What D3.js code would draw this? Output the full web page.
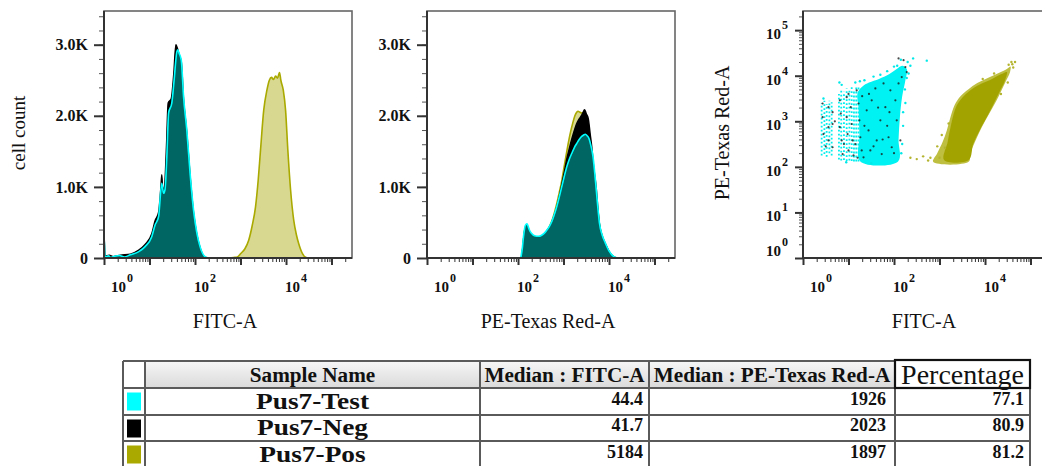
<!DOCTYPE html>
<html><head><meta charset="utf-8">
<script src="https://cdn.jsdelivr.net/npm/d3@7"></script>
<style>body{margin:0;background:#fff}svg{display:block}</style>
</head><body><svg id="c" width="1042" height="466"></svg>
<script>
// ---------------- DATA ----------------
const samples = ["Pus7-Test", "Pus7-Neg", "Pus7-Pos"];
const sampleColors = ["#00ffff", "#000000", "#a9a900"];
const medianFITC = ["44.4", "41.7", "5184"];
const medianPE = ["1926", "2023", "1897"];
const percentage = ["77.1", "80.9", "81.2"];
const tableHeaders = ["Sample Name", "Median : FITC-A", "Median : PE-Texas Red-A", "Percentage"];
const countTicks = [0, 1000, 2000, 3000];
const countTickLabels = ["0", "1.0K", "2.0K", "3.0K"];
const countMax = 3474;
const xDecadeLabels = [0, 2, 4];
const yDecadeLabels = [0, 1, 2, 3, 4, 5];
const axisTitles = ["FITC-A", "PE-Texas Red-A", "FITC-A"];

// histograms: [intensity, cell count]
const fitcTest = [[1,0],[1,300],[1.05,15],[1.25,30],[1.4,8],[1.7,25],[2.2,35],[2.8,15],[3.8,45],[5.8,90],[8,160],[11.2,300],[13.2,460],[15.8,580],[18.6,1050],[20.4,910],[21.9,960],[24,1420],[26.3,2040],[30.9,2180],[34.7,2500],[39.8,2900],[41.7,2930],[44.7,2880],[50,2780],[56,2270],[66,1800],[78,1190],[93,670],[110,350],[129,160],[166,20],[200,0]];
const fitcNeg = [[1,0],[1,330],[1.06,25],[1.3,40],[1.6,20],[2.3,40],[3.8,55],[5.8,110],[8,190],[11.2,340],[13.2,520],[15.8,640],[17.8,1000],[18.6,1170],[19.6,960],[21.3,1000],[23.5,1550],[25.7,2180],[30,2240],[34,2580],[38,3000],[40.5,2960],[44.7,2860],[50,2760],[56,2240],[66,1770],[78,1160],[93,640],[110,330],[129,150],[160,15],[190,0]];
const fitcPos = [[560,0],[700,8],[850,15],[1000,60],[1250,130],[1514,250],[1800,450],[2138,720],[2450,1100],[2754,1520],[3236,2080],[3802,2360],[4300,2500],[4800,2540],[5300,2510],[5900,2560],[6500,2530],[7200,2610],[7700,2500],[8710,2360],[9772,2080],[10965,1520],[12589,960],[14791,530],[17000,320],[19055,200],[23000,60],[26915,10],[31623,0]];
const peTest = [[115,0],[125,150],[132,300],[145,460],[158,480],[172,420],[186,370],[210,330],[240,310],[280,305],[331,320],[380,350],[427,390],[490,445],[550,510],[620,600],[708,720],[800,850],[912,1000],[1040,1150],[1175,1280],[1340,1390],[1514,1470],[1720,1550],[1950,1610],[2230,1670],[2512,1710],[2780,1730],[3020,1740],[3300,1720],[3630,1680],[4000,1580],[4467,1420],[4850,1200],[5248,960],[5700,700],[6166,490],[7100,320],[8318,210],[10000,100],[11750,40],[13500,10],[15136,0]];
const peNeg = [[118,0],[128,160],[134,300],[146,440],[158,460],[172,400],[186,350],[210,315],[240,300],[280,295],[331,310],[380,340],[427,380],[490,435],[550,500],[620,595],[708,720],[800,860],[912,1030],[1040,1210],[1175,1390],[1340,1540],[1514,1670],[1720,1790],[1950,1890],[2230,1960],[2512,2010],[2700,2050],[2884,2085],[3050,2060],[3162,2030],[3400,1990],[3548,1940],[3850,1750],[4169,1570],[4600,1280],[5248,980],[5700,700],[6166,480],[7100,310],[8318,200],[10000,95],[11750,35],[13500,8],[15000,0]];
const pePos = [[118,0],[128,150],[134,290],[146,430],[158,450],[172,390],[186,345],[210,310],[240,295],[280,290],[331,305],[380,335],[427,375],[490,440],[550,515],[620,620],[708,760],[800,910],[912,1080],[1010,1250],[1122,1420],[1260,1600],[1413,1760],[1600,1900],[1778,2000],[1950,2050],[2089,2065],[2300,2050],[2512,2040],[2750,2045],[2884,2050],[3100,1980],[3311,1900],[3650,1700],[3981,1500],[4500,1230],[5012,980],[5600,700],[6166,470],[7100,300],[8318,195],[10000,90],[11750,35],[13500,8],[15000,0]];

// scatter (values as log10 FITC, log10 PE-Texas Red): columns [x, yLow, yHigh]
const testColumns = [[0.41,2.25,3.40],[0.47,2.28,3.45],[0.52,2.22,3.38],[0.58,2.30,3.45],[0.63,2.25,3.42],[0.79,2.16,3.60],[0.84,2.14,3.70],[0.90,2.15,3.65],[0.96,2.13,3.72],[1.02,2.14,3.68],[1.07,2.13,3.75],[1.12,2.12,3.70],[1.17,2.12,3.74],[1.22,2.12,3.78]];
const testBody = [[1.26,2.12],[1.24,2.7],[1.22,3.3],[1.2,3.62],[1.3,3.76],[1.45,3.85],[1.67,3.93],[1.89,4.03],[2.05,4.14],[2.18,4.22],[2.28,4.15],[2.25,3.9],[2.18,3.55],[2.13,3.1],[2.1,2.6],[2.09,2.12]];
const testOutliers = [[2.07,4.22],[2.15,4.35],[2.3,4.3],[2.42,4.38],[2.72,4.33],[2.36,4.22],[1.85,4.1],[1.55,3.98],[1.25,3.88],[0.85,3.8],[0.8,3.85],[2.28,3.95],[2.25,3.4],[2.2,2.9],[2.18,2.5],[0.45,3.5],[0.95,2.1],[1.5,2.08],[1.35,3.9],[1.7,4.02],[2.0,4.2],[2.24,3.7],[2.2,3.2],[2.16,2.3],[1.15,3.85],[2.32,4.05]];
const negDots = [[0.43,3.39],[0.43,3.09],[0.45,2.72],[0.56,3.31],[0.56,2.87],[0.56,2.58],[0.65,3.20],[0.65,2.94],[0.65,2.43],[0.81,3.46],[0.83,3.17],[0.81,2.87],[0.85,2.58],[0.87,2.28],[0.96,3.53],[0.96,3.09],[0.98,2.72],[1.0,2.36],[1.05,3.31],[1.07,2.94],[1.09,2.58],[1.11,2.25],[1.18,3.68],[1.22,3.39],[1.24,3.02],[1.26,2.65],[1.29,2.36],[1.33,2.21],[1.40,3.24],[1.44,2.80],[1.48,2.36],[1.51,3.46],[1.59,3.72],[1.62,2.58],[1.70,3.02],[1.73,2.28],[1.77,3.83],[1.81,3.31],[1.88,2.65],[1.92,3.68],[1.95,2.43],[2.03,3.46],[2.06,3.02],[2.10,3.83],[2.14,2.58],[2.17,3.97],[2.25,4.19],[2.28,4.08],[2.21,4.34],[2.10,4.38],[1.15,2.5],[1.35,2.9],[1.55,2.45],[1.65,3.3],[1.85,2.9],[2.0,2.3],[1.2,2.2],[1.45,3.6],[1.75,2.6],[1.9,3.2],[0.9,2.5],[0.7,3.0],[0.5,2.45],[1.0,3.6],[1.3,3.55]];
const posHalo = [[2.86,2.11],[2.95,2.3],[3.07,2.55],[3.16,2.8],[3.23,3.05],[3.33,3.35],[3.46,3.55],[3.63,3.7],[3.83,3.84],[4.06,3.95],[4.3,4.06],[4.48,4.15],[4.56,4.2],[4.55,4.08],[4.45,3.86],[4.3,3.55],[4.1,3.18],[3.92,2.85],[3.78,2.55],[3.68,2.3],[3.64,2.11]];
const posCore = [[3.1,2.15],[3.18,2.55],[3.26,2.95],[3.38,3.35],[3.58,3.6],[3.83,3.78],[4.1,3.9],[4.35,4.03],[4.48,4.08],[4.44,3.9],[4.27,3.55],[4.07,3.15],[3.88,2.8],[3.74,2.5],[3.64,2.15]];
const posOutliers = [[2.36,2.2],[2.5,2.17],[2.64,2.23],[2.75,2.14],[2.8,2.2],[4.6,4.25],[4.66,4.3],[4.58,4.3],[4.52,4.24],[4.62,4.18],[2.95,2.45],[3.05,2.7],[4.5,3.85],[4.35,3.6],[3.0,2.2],[3.12,2.42],[3.2,2.95],[3.95,3.93],[4.2,4.05]];

// ---------------- DRAW ----------------
const svg = d3.select("#c");
const SERIF = "'Liberation Serif','Times New Roman',serif";
const panelLeft = [104, 427, 803];
const PW = 248, TOP = 11, BOT = 258;
const xMax = Math.pow(10, 5.45), yMaxLog = Math.pow(10, 5.42);
const tealFill = "#006663";

function xScale(i) { return d3.scaleLog().domain([1, xMax]).range([panelLeft[i], panelLeft[i] + PW]); }
const yCount = d3.scaleLinear().domain([0, countMax]).range([BOT, TOP]);
const yLog = d3.scaleLog().domain([1, yMaxLog]).range([BOT, TOP]);

const defs = svg.append("defs");
panelLeft.forEach((x0, i) => {
  defs.append("clipPath").attr("id", "clip" + i).append("rect")
    .attr("x", x0).attr("y", TOP).attr("width", PW).attr("height", BOT - TOP);
});
const grad = defs.append("linearGradient").attr("id", "hdr").attr("x1", 0).attr("y1", 0).attr("x2", 0).attr("y2", 1);
grad.append("stop").attr("offset", 0).attr("stop-color", "#f6f6f6");
grad.append("stop").attr("offset", 1).attr("stop-color", "#dadada");

const minorVals = [];
for (let k = 0; k <= 5; k++) for (let m = 2; m <= 9; m++) { const v = m * Math.pow(10, k); if (v < xMax) minorVals.push(v); }
const decades = [1, 10, 100, 1000, 10000, 100000];

function styleAxis(g) {
  g.select(".domain").remove();
  g.selectAll("line").attr("stroke", "#333");
}

function drawFrame(i) {
  const x0 = panelLeft[i];
  svg.append("rect").attr("x", x0).attr("y", TOP).attr("width", PW).attr("height", BOT - TOP)
    .attr("fill", "none").attr("stroke", "#666").attr("stroke-width", 1.6);
}

function drawXAxis(i) {
  const x = xScale(i);
  const gMaj = svg.append("g").attr("transform", `translate(0,${BOT})`)
    .call(d3.axisBottom(x).tickValues(decades).tickSize(7).tickFormat(""));
  styleAxis(gMaj); gMaj.selectAll("line").attr("stroke-width", 2);
  const gMin = svg.append("g").attr("transform", `translate(0,${BOT})`)
    .call(d3.axisBottom(x).tickValues(minorVals).tickSize(4).tickFormat(""));
  styleAxis(gMin); gMin.selectAll("line").attr("stroke-width", 1);
  svg.append("line").attr("x1", panelLeft[i]).attr("x2", Math.min(panelLeft[i] + PW, 1042)).attr("y1", BOT).attr("y2", BOT)
    .attr("stroke", "#333").attr("stroke-width", 2);
  xDecadeLabels.forEach(k => {
    const off = k === 0 ? 7 : -1;
    const t = svg.append("text").attr("x", x(Math.pow(10, k)) + off).attr("y", 292)
      .attr("font-family", SERIF).attr("font-weight", "bold").attr("font-size", 15).attr("fill", "#111");
    t.append("tspan").text("10");
    t.append("tspan").attr("font-size", 12).attr("dx", 1).attr("dy", -10).text(k);
  });
  svg.append("text").attr("x", panelLeft[i] + PW / 2 - 3).attr("y", 328).attr("text-anchor", "middle")
    .attr("font-family", SERIF).attr("font-size", 20).attr("fill", "#111").text(axisTitles[i]);
}

function drawCountAxis(i) {
  const x0 = panelLeft[i];
  const minor = d3.range(0, 3401, 200);
  const gMin = svg.append("g").attr("transform", `translate(${x0},0)`)
    .call(d3.axisLeft(yCount).tickValues(minor).tickSize(5).tickFormat(""));
  styleAxis(gMin); gMin.selectAll("line").attr("stroke", "#555").attr("stroke-width", 1);
  const gMaj = svg.append("g").attr("transform", `translate(${x0},0)`)
    .call(d3.axisLeft(yCount).tickValues(countTicks).tickSize(10).tickPadding(6).tickFormat((d, j) => countTickLabels[j]));
  styleAxis(gMaj); gMaj.selectAll("line").attr("stroke-width", 2);
  gMaj.selectAll("text").attr("font-family", SERIF).attr("font-weight", "bold").attr("font-size", 16).attr("fill", "#111");
  svg.append("line").attr("x1", x0).attr("x2", x0).attr("y1", TOP).attr("y2", BOT).attr("stroke", "#333").attr("stroke-width", 2);
}

function drawHist(i, data, fill, stroke, sw) {
  const x = xScale(i);
  const area = d3.area().x(d => x(d[0])).y0(yCount(0)).y1(d => yCount(d[1])).curve(d3.curveMonotoneX);
  const line = d3.line().x(d => x(d[0])).y(d => yCount(d[1])).curve(d3.curveMonotoneX);
  const g = svg.append("g").attr("clip-path", `url(#clip${i})`);
  g.append("path").datum(data).attr("d", area).attr("fill", fill);
  g.append("path").datum(data).attr("d", line).attr("fill", "none").attr("stroke", stroke).attr("stroke-width", sw).attr("stroke-linejoin", "round");
}

// panel 1: FITC histogram
drawFrame(0);
drawHist(0, fitcPos, "#d8d890", "#a9a900", 1.6);
drawHist(0, fitcNeg, "#000", "#000", 1.4);
drawHist(0, fitcTest, tealFill, "#00ffff", 1.6);
drawCountAxis(0); drawXAxis(0);
svg.append("text").attr("transform", "translate(25,133) rotate(-90)").attr("text-anchor", "middle")
  .attr("font-family", SERIF).attr("font-size", 19).attr("fill", "#111").text("cell count");

// panel 2: PE histogram
drawFrame(1);
drawHist(1, pePos, "#d8d890", "#a9a900", 1.6);
drawHist(1, peNeg, "#000", "#000", 1.4);
drawHist(1, peTest, tealFill, "#00ffff", 1.6);
drawCountAxis(1); drawXAxis(1);

// panel 3: scatter
drawFrame(2);
(function () {
  const x = xScale(2);
  const P = p => [x(Math.pow(10, p[0])), yLog(Math.pow(10, p[1]))];
  const g = svg.append("g").attr("clip-path", "url(#clip2)");
  const poly = d3.line().x(p => P(p)[0]).y(p => P(p)[1]).curve(d3.curveCatmullRomClosed.alpha(0.5));
  g.selectAll("line.col").data(testColumns).join("line")
    .attr("x1", d => P([d[0], d[1]])[0]).attr("x2", d => P([d[0], d[1]])[0])
    .attr("y1", d => P([d[0], d[1]])[1]).attr("y2", d => P([d[0], d[2]])[1])
    .attr("stroke", "#00eeee").attr("stroke-width", 1.8).attr("stroke-dasharray", "1.8 2.2");
  g.append("path").datum(testBody).attr("d", poly).attr("fill", "#00f2f2");
  g.selectAll("circle.to").data(testOutliers).join("circle")
    .attr("cx", d => P(d)[0]).attr("cy", d => P(d)[1]).attr("r", 1.2).attr("fill", "#00e8e8");
  g.selectAll("circle.nd").data(negDots).join("circle")
    .attr("cx", d => P(d)[0]).attr("cy", d => P(d)[1]).attr("r", 1.1).attr("fill", "#1a1a1a").attr("opacity", 0.8);
  g.append("path").datum(posHalo).attr("d", poly).attr("fill", "#a8a800").attr("opacity", 0.75);
  g.append("path").datum(posCore).attr("d", poly).attr("fill", "#a3a300");
  g.selectAll("circle.po").data(posOutliers).join("circle")
    .attr("cx", d => P(d)[0]).attr("cy", d => P(d)[1]).attr("r", 1.2).attr("fill", "#b4b430");

  const yMinor = [];
  for (let k = 0; k <= 5; k++) for (let m = 2; m <= 9; m++) { const v = m * Math.pow(10, k); if (v < yMaxLog) yMinor.push(v); }
  const x0 = panelLeft[2];
  const gMin = svg.append("g").attr("transform", `translate(${x0},0)`)
    .call(d3.axisLeft(yLog).tickValues(yMinor).tickSize(4).tickFormat(""));
  styleAxis(gMin); gMin.selectAll("line").attr("stroke", "#555").attr("stroke-width", 1);
  const gMaj = svg.append("g").attr("transform", `translate(${x0},0)`)
    .call(d3.axisLeft(yLog).tickValues(decades).tickSize(8).tickFormat(""));
  styleAxis(gMaj); gMaj.selectAll("line").attr("stroke-width", 2);
  svg.append("line").attr("x1", x0).attr("x2", x0).attr("y1", TOP).attr("y2", BOT).attr("stroke", "#333").attr("stroke-width", 2);
  yDecadeLabels.forEach(k => {
    const yy = yLog(Math.pow(10, k)) + (k === 0 ? -2 : 9);
    const t = svg.append("text").attr("x", x0 - 15).attr("y", yy).attr("text-anchor", "end")
      .attr("font-family", SERIF).attr("font-weight", "bold").attr("font-size", 15).attr("fill", "#111");
    t.append("tspan").text("10");
    t.append("tspan").attr("font-size", 12).attr("dx", 1).attr("dy", -10).text(k);
  });
  svg.append("text").attr("transform", "translate(729,133) rotate(-90)").attr("text-anchor", "middle")
    .attr("font-family", SERIF).attr("font-size", 20).attr("fill", "#111").text("PE-Texas Red-A");
  drawXAxis(2);
})();

// ---------------- TABLE ----------------
const colX = [123, 145, 480, 649, 895, 1030];
const rowY = [361, 388, 415, 441, 468];
const tg = svg.append("g");
[1, 2, 3].forEach(c => tg.append("rect").attr("x", colX[c]).attr("y", rowY[0]).attr("width", colX[c + 1] - colX[c]).attr("height", rowY[1] - rowY[0]).attr("fill", "url(#hdr)"));
const gridColor = "#5a5a5a";
rowY.forEach(y => tg.append("line").attr("x1", colX[0]).attr("x2", colX[5]).attr("y1", y).attr("y2", y).attr("stroke", gridColor).attr("stroke-width", 2));
colX.forEach(x => tg.append("line").attr("x1", x).attr("x2", x).attr("y1", rowY[0]).attr("y2", 466).attr("stroke", gridColor).attr("stroke-width", 2));
tg.append("rect").attr("x", colX[4]).attr("y", rowY[0] - 1).attr("width", colX[5] - colX[4]).attr("height", rowY[1] - rowY[0] + 1)
  .attr("fill", "#fff").attr("stroke", "#111").attr("stroke-width", 2.2);
tableHeaders.forEach((h, j) => {
  const c = j + 1;
  const isPct = j === 3;
  const t = tg.append("text").attr("x", (colX[c] + colX[c + 1]) / 2).attr("y", isPct ? 384 : 382).attr("text-anchor", "middle")
    .attr("font-family", SERIF).attr("font-weight", isPct ? "normal" : "bold").attr("font-size", isPct ? 28 : 20)
    .attr("fill", "#111").text(h);
  if (!isPct) { const w = t.node().getComputedTextLength(); t.attr("textLength", w * 1.06).attr("lengthAdjust", "spacingAndGlyphs"); }
});
samples.forEach((s, r) => {
  const top = rowY[r + 1], bottom = rowY[r + 2];
  tg.append("rect").attr("x", 127).attr("y", top + 4.5).attr("width", 14).attr("height", 18).attr("fill", sampleColors[r]);
  const t = tg.append("text").attr("x", (colX[1] + colX[2]) / 2).attr("y", bottom - 6).attr("text-anchor", "middle")
    .attr("font-family", SERIF).attr("font-weight", "bold").attr("font-size", 24).attr("fill", "#111").text(s);
  const w = t.node().getComputedTextLength();
  t.attr("textLength", w * 1.14).attr("lengthAdjust", "spacingAndGlyphs");
  [medianFITC[r], medianPE[r], percentage[r]].forEach((v, j) => {
    tg.append("text").attr("x", colX[j + 3] - (j === 1 ? 9 : 6)).attr("y", bottom - 10).attr("text-anchor", "end")
      .attr("font-family", SERIF).attr("font-weight", "bold").attr("font-size", 18).attr("fill", "#111").text(v);
  });
});
</script></body></html>
